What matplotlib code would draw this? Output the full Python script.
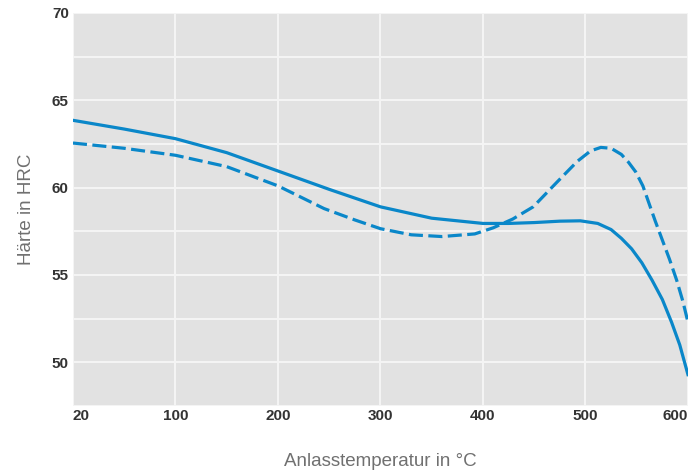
import numpy as np
import matplotlib.pyplot as plt
from matplotlib.ticker import FixedLocator

# Werte
temp_a = [20, 60, 100, 150, 200, 250, 300, 350, 400, 425, 450, 475, 495, 512, 525, 535, 545, 555,
          565, 575, 584, 592, 600]
hrc_a = [63.85, 63.35, 62.8, 62.0, 60.95, 59.9, 58.9, 58.25, 57.95, 57.95, 58.0, 58.08, 58.1, 57.95,
         57.6, 57.1, 56.5, 55.7, 54.7, 53.6, 52.3, 51.0, 49.3]

temp_b = [20, 60, 100, 150, 200, 245, 275, 300, 330, 360, 392, 410, 429, 449, 472, 492, 505, 515, 525,
          535, 542, 549, 556, 562, 568, 575, 582, 589, 595, 600]
hrc_b = [62.55, 62.25, 61.85, 61.2, 60.1, 58.8, 58.15, 57.65, 57.3, 57.2, 57.35, 57.7, 58.2, 58.9, 60.3,
         61.5, 62.1, 62.3, 62.25, 61.9, 61.45, 60.9, 60.1, 59.1, 58.1, 57.0, 55.9, 54.7, 53.5, 52.3]

x_ticks = [20, 100, 200, 300, 400, 500, 600]
y_ticks = [50, 55, 60, 65, 70]
y_minor = [47.5, 52.5, 57.5, 62.5, 67.5]

blue = "#0a87c9"


# Achse: 20..100 auf gleiche Breite wie die übrigen Abschnitte
def fwd(x):
    x = np.asarray(x, dtype=float)
    return np.where(x < 100, (x - 20) * 100 / 80, x)


def inv(x):
    x = np.asarray(x, dtype=float)
    return np.where(x < 100, x * 80 / 100 + 20, x)


fig = plt.figure(figsize=(6.91, 4.70), dpi=100)
ax = fig.add_axes([0.1056, 0.136, 0.890, 0.8367])
ax.set_xscale("function", functions=(fwd, inv))
ax.set_facecolor("#e2e2e2")

ax.plot(temp_a, hrc_a, color=blue, lw=2.3, solid_joinstyle="round")
line_b, = ax.plot(temp_b, hrc_b, color=blue, lw=2.3, dash_capstyle="butt")
line_b.set_dashes([4.4, 1.7])

ax.set_xlim(20, 600)
ax.set_ylim(47.5, 70)
ax.xaxis.set_major_locator(FixedLocator(x_ticks))
ax.set_xticklabels([str(v) for v in x_ticks])
ax.yaxis.set_major_locator(FixedLocator(y_ticks))
ax.yaxis.set_minor_locator(FixedLocator(y_minor))
ax.set_yticklabels([str(v) for v in y_ticks])

ax.grid(True, which="both", color="#f4f4f4", lw=1.5)
ax.set_axisbelow(True)
for s in ax.spines.values():
    s.set_visible(False)
ax.tick_params(which="both", length=0)
ax.tick_params(axis="x", pad=2)
ax.tick_params(axis="y", pad=3)
for lab in ax.get_xticklabels() + ax.get_yticklabels():
    lab.set_fontfamily("Liberation Sans")
    lab.set_fontweight("bold")
    lab.set_fontsize(11)
    lab.set_color("#333333")
xl = ax.get_xticklabels()
xl[0].set_horizontalalignment("left")
xl[-1].set_horizontalalignment("right")

ax.set_xlabel("Anlasstemperatur in °C", fontsize=13.5, color="#707070",
              family="Liberation Sans", labelpad=22)
ax.set_ylabel("Härte in HRC", fontsize=13.5, color="#707070",
              family="Liberation Sans", labelpad=12)

fig.savefig("out.png", dpi=100)
